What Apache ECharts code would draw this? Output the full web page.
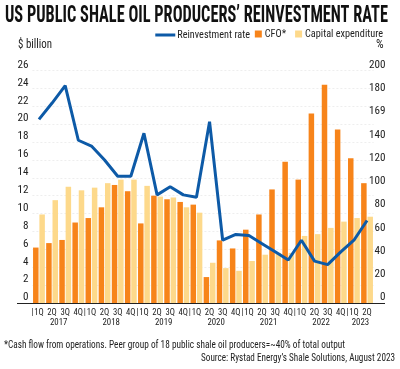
<!DOCTYPE html>
<html><head><meta charset="utf-8">
<script src="https://cdn.jsdelivr.net/npm/echarts@6/dist/echarts.min.js"></script>
<style>html,body{margin:0;padding:0;background:#fff}#c{width:400px;height:369px}</style>
</head><body><div id="c"></div>
<script>
// ---- data ----
const quarters = ['1Q','2Q','3Q','4Q','1Q','2Q','3Q','4Q','1Q','2Q','3Q','4Q','1Q','2Q','3Q','4Q','1Q','2Q','3Q','4Q','1Q','2Q','3Q','4Q','1Q','2Q'];
const years = ['2017','2018','2019','2020','2021','2022','2023'];
const quartersPerYear = [4,4,4,4,4,4,2];
const cfo = [6.2,6.7,7.05,9.0,9.5,10.7,13.2,12.5,8.9,12.0,11.6,11.3,11.0,2.9,7.0,6.1,8.2,9.9,12.7,15.8,13.8,21.2,24.4,19.4,16.2,13.4];
const capex = [9.9,11.5,13.0,12.6,12.9,13.4,13.8,13.8,13.1,11.9,11.8,10.7,10.1,4.5,3.9,3.6,4.7,5.4,5.6,5.6,7.5,7.7,8.4,9.1,9.5,9.65];
const rate = [158,172,187,140,135,123,109,109,146,93,100,93,91,156,54,59,58,51,44,37,54,36,33,44,54,71];
const leftTicks = ['0','2','4','6','8','10','12','14','16','18','20','22','24','26'];
const rightTicks = ['0','20','40','60','80','100','120','140','169','180','200'];

const titleText = 'US PUBLIC SHALE OIL PRODUCERS\u2019 REINVESTMENT RATE';
const note1 = '*Cash flow from operations. Peer group of 18 public shale oil producers=~40% of total output';
const note2 = 'Source: Rystad Energy\u2019s Shale Solutions, August 2023';

// ---- pick the narrowest installed font ----
const ctx = document.createElement('canvas').getContext('2d');
function w(text, font) { ctx.font = font; return ctx.measureText(text).width; }
function hasFont(name) {
  const s = 'abcdefghijklmnopqrstuvwxyzABCDEFGHIJ0123456789';
  return w(s, '40px monospace') !== w(s, '40px "' + name + '", monospace') ||
         w(s, '40px serif') !== w(s, '40px "' + name + '", serif');
}
const candidates = ['Liberation Sans Narrow', 'Roboto Condensed', 'DejaVu Sans Condensed', 'Open Sans Condensed', 'Noto Sans Condensed', 'Arial Narrow', 'Roboto', 'Liberation Sans'];
let best = null, bestW = Infinity;
candidates.forEach(n => {
  if (hasFont(n)) {
    const ww = w('Reinvestment rate', '12px "' + n + '"');
    if (ww < bestW) { bestW = ww; best = n; }
  }
});
const FONT = (best ? '"' + best + '",' : '') + 'sans-serif';
function fit(text, target, maxSize) {
  return Math.min(maxSize, 12 * target / w(text, '12px ' + FONT));
}
const legendSize = Math.min(fit('Reinvestment rate', 73, 12), fit('Capital expenditure', 78, 12));
const qSize = fit('2Q', 9.5, 11);
const ySize = fit('2017', 17.5, 12);
const axSize = fit('26', 11, 12);

const titleFont = 'bold 23px ' + FONT;
const titleScale = 383 / w(titleText, titleFont);
const noteFont = '11px ' + FONT;
const n1Scale = 341 / w(note1, noteFont);
const n2Scale = 194 / w(note2, noteFont);
const unitFont = '12px ' + FONT;
const unitScale = Math.min(1, 34 / w('$ billion', unitFont));

const C_CFO = '#f7841a', C_CAPEX = '#fdd98b', C_LINE = '#0d5aa7', TXT = '#222';

// year group centres and boundaries in category units
const yearPos = {}, pipePos = {};
let start = 0;
quartersPerYear.forEach((n, i) => {
  yearPos[(start + (n - 1) / 2).toFixed(1)] = years[i];
  pipePos[(start - 0.5).toFixed(1)] = true;
  start += n;
});

const chart = echarts.init(document.getElementById('c'));
chart.setOption({
  animation: false,
  textStyle: { fontFamily: FONT, color: TXT },
  grid: { left: 32.4, right: 26.4, top: 70.5, bottom: 66, containLabel: false },
  legend: [
    { data: [{ name: 'Reinvestment rate', icon: 'rect' }], right: 150, top: 30, padding: 0, itemWidth: 20, itemHeight: 3,
      textStyle: { fontSize: legendSize, color: TXT, fontFamily: FONT, padding: [0, 0, 0, -3] } },
    { data: ['CFO*', 'Capital expenditure'], right: 17, top: 29, padding: 0, itemWidth: 7, itemHeight: 7, icon: 'rect',
      textStyle: { fontSize: legendSize, color: TXT, fontFamily: FONT, padding: [0, 0, 0, -2] }, itemGap: 9 }
  ],
  xAxis: [
    { type: 'category', data: quarters, position: 'bottom',
      axisLine: { show: false }, axisTick: { show: false },
      axisLabel: { interval: 0, fontSize: qSize, color: TXT, margin: 5, fontFamily: FONT } },
    { type: 'value', min: -0.5, max: 25.5, interval: 0.5, position: 'bottom',
      axisLine: { show: false }, axisTick: { show: false }, splitLine: { show: false },
      axisLabel: { fontSize: qSize, color: TXT, margin: 5, fontFamily: FONT, showMinLabel: true, showMaxLabel: false,
        formatter: v => pipePos[v.toFixed(1)] ? '|' : '' } },
    { type: 'value', min: -0.5, max: 25.5, interval: 0.5, position: 'bottom',
      axisLine: { show: false }, axisTick: { show: false }, splitLine: { show: false },
      axisLabel: { fontSize: ySize, color: TXT, margin: 15, fontFamily: FONT, showMinLabel: false, showMaxLabel: false,
        formatter: v => yearPos[v.toFixed(1)] || '' } }
  ],
  yAxis: [
    { type: 'value', min: 0, max: 26, interval: 2, position: 'left',
      axisLine: { show: false }, axisTick: { show: false },
      splitLine: { show: true, lineStyle: { color: '#eeeeee', type: [2, 2], width: 1 } },
      axisLabel: { fontSize: axSize, color: TXT, margin: 4, verticalAlign: 'bottom', fontFamily: FONT,
        formatter: (v) => leftTicks[Math.round(v / 2)] } },
    { type: 'value', min: 0, max: 200, interval: 20, position: 'right',
      axisLine: { show: false }, axisTick: { show: false }, splitLine: { show: false },
      axisLabel: { fontSize: axSize, color: TXT, margin: 12, align: 'right', verticalAlign: 'bottom', fontFamily: FONT,
        formatter: (v) => rightTicks[Math.round(v / 20)] } }
  ],
  series: [
    { name: 'CFO*', type: 'bar', data: cfo, xAxisIndex: 0, yAxisIndex: 0, barWidth: 5.5, barGap: '15%',
      itemStyle: { color: C_CFO }, z: 2 },
    { name: 'Capital expenditure', type: 'bar', data: capex, xAxisIndex: 0, yAxisIndex: 0, barWidth: 5.5, barGap: '15%',
      itemStyle: { color: C_CAPEX }, z: 2 },
    { name: 'Reinvestment rate', type: 'line', data: rate, xAxisIndex: 0, yAxisIndex: 1,
      symbol: 'none', lineStyle: { color: C_LINE, width: 3 }, itemStyle: { color: C_LINE }, z: 5 }
  ],
  graphic: [
    { type: 'text', x: 5, y: 5, scaleX: titleScale, style: { text: titleText, font: titleFont, fill: '#111', textVerticalAlign: 'top' } },
    { type: 'text', x: 18, y: 39, scaleX: unitScale, style: { text: '$ billion', font: unitFont, fill: TXT } },
    { type: 'text', x: 376, y: 39, style: { text: '%', font: unitFont, fill: TXT } },
    { type: 'line', shape: { x1: 17, y1: 303.5, x2: 385, y2: 303.5 }, style: { stroke: '#222', lineWidth: 1 }, z: 10 },
    { type: 'text', x: 4, y: 340, scaleX: n1Scale, style: { text: note1, font: noteFont, fill: TXT } },
    { type: 'text', x: 395 - 194, y: 353, scaleX: n2Scale, style: { text: note2, font: noteFont, fill: TXT } }
  ]
});
</script></body></html>
